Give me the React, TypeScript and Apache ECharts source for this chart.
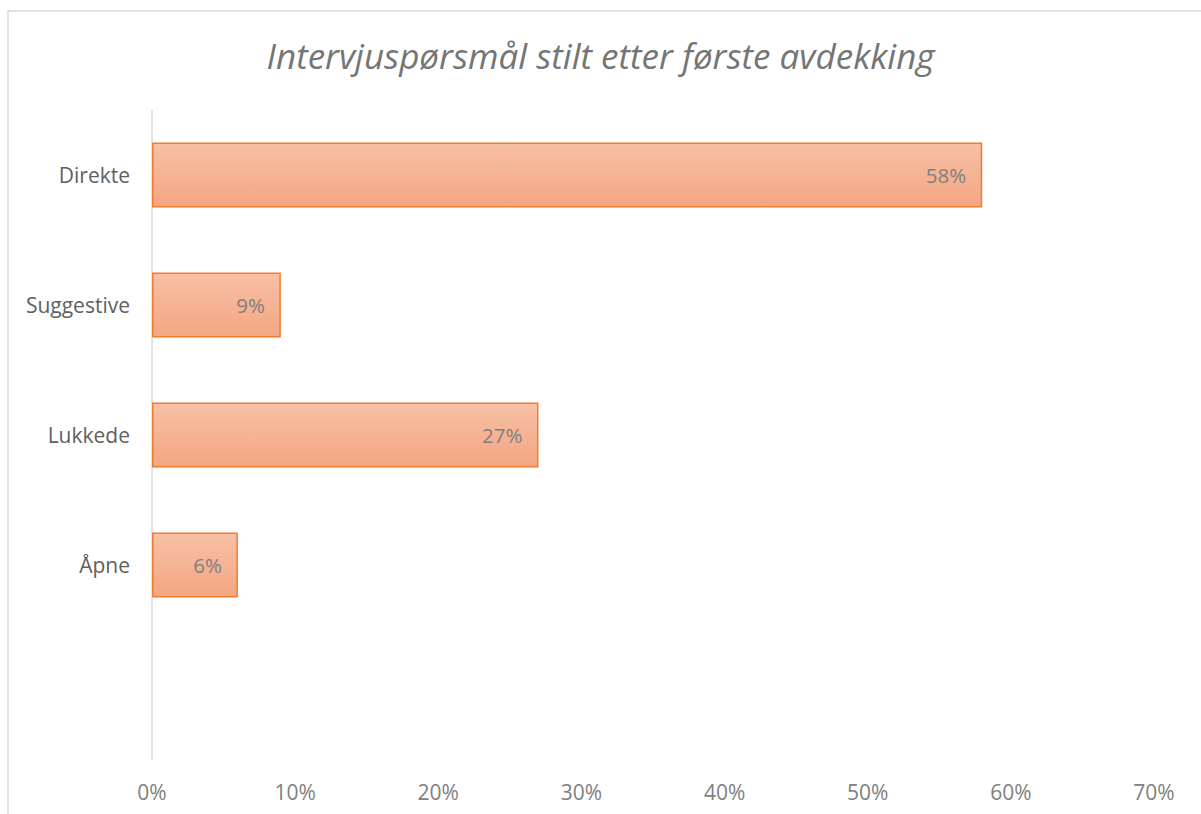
import React, { useEffect, useRef } from "react";
import * as echarts from "echarts";

const titleText = "Intervjuspørsmål stilt etter første avdekking";
const categories = ["Direkte", "Suggestive", "Lukkede", "Åpne", ""];
const values: (number | null)[] = [58, 9, 27, 6, null];
const xMax = 70;
const xInterval = 10;

export default function App() {
  const ref = useRef<HTMLDivElement>(null);
  useEffect(() => {
    if (!ref.current) return;
    const chart = echarts.init(ref.current, null, { renderer: "svg" });
    chart.setOption({
      animation: false,
      backgroundColor: "#ffffff",
      title: {
        text: titleText,
        left: "center",
        top: 33,
        textStyle: {
          fontFamily: "Open Sans",
          fontStyle: "italic",
          fontWeight: "normal",
          fontSize: 35,
          color: "#757575",
        },
      },
      graphic: [
        {
          type: "rect",
          shape: { x: 8, y: 11, width: 1300, height: 900 },
          style: { fill: "none", stroke: "#d9d9d9", lineWidth: 1.5 },
          silent: true,
          z: -1,
        },
      ],
      grid: { left: 152, right: 47, top: 110, bottom: 54 },
      xAxis: {
        type: "value",
        min: 0,
        max: xMax,
        interval: xInterval,
        axisLine: { show: false },
        axisTick: { show: false },
        splitLine: { show: false },
        axisLabel: {
          formatter: (v: number) => v + "%",
          color: "#808080",
          fontFamily: "Open Sans",
          fontSize: 21,
          margin: 21,
        },
      },
      yAxis: {
        type: "category",
        data: categories,
        inverse: true,
        axisLine: { show: true, lineStyle: { color: "#d9d9d9", width: 1.5 } },
        axisTick: { show: false },
        axisLabel: {
          color: "#606060",
          fontFamily: "Open Sans",
          fontSize: 21,
          margin: 22,
        },
      },
      series: [
        {
          type: "bar",
          data: values,
          barCategoryGap: "50%",
          itemStyle: {
            color: new echarts.graphic.LinearGradient(0, 0, 0, 1, [
              { offset: 0, color: "#f7c0a5" },
              { offset: 1, color: "#f4a682" },
            ]),
            borderColor: "#ed7d31",
            borderWidth: 1.5,
          },
          label: {
            show: true,
            position: "insideRight",
            distance: 16,
            formatter: (p: any) => p.value + "%",
            color: "#7f7f7f",
            fontFamily: "Open Sans",
            fontSize: 20.5,
          },
        },
      ],
    });
    return () => chart.dispose();
  }, []);
  return (
    <div
      ref={ref}
      style={{ position: "absolute", left: 0, top: 0, width: 1201, height: 814 }}
    />
  );
}
